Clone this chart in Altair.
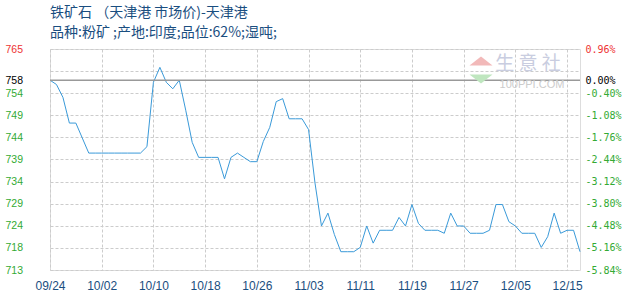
import json
import altair as alt
import pandas as pd

# ---- data ----
prices = [758, 757, 754, 748, 748, 744.5, 741, 741, 741, 741, 741, 741, 741, 741, 741,
          742.5, 757.5, 761, 757.5, 756, 758, 751, 743.5, 740, 740, 740, 740, 735, 740, 741,
          740, 739, 739, 743.7, 747, 753, 753.7, 749, 749, 749, 746.5, 734, 724, 727, 722,
          718, 718, 718, 719, 724, 720, 723, 723, 723, 726, 724, 729, 724.6, 723, 723, 723,
          722.3, 727, 724, 724, 722.3, 722.3, 722.3, 723, 729, 729, 725, 724, 722.3, 722.3,
          722.3, 719, 721.5, 727, 722.3, 723, 723, 718]

x_tick_idx = [0, 8, 16, 24, 32, 40, 48, 56, 64, 72, 80]
x_tick_labels = ["09/24", "10/02", "10/10", "10/18", "10/26", "11/03",
                 "11/11", "11/19", "11/27", "12/05", "12/15"]

base_price = 758
pct_levels = [-5.84, -5.16, -4.48, -3.80, -3.12, -2.44, -1.76, -1.08, -0.40, 0.28, 0.96]
left_labels = ["713", "718", "724", "729", "734", "739", "744", "749", "754", "", "765"]
right_labels = ["-5.84%", "-5.16%", "-4.48%", "-3.80%", "-3.12%", "-2.44%",
                "-1.76%", "-1.08%", "-0.40%", "", "0.96%"]
base_left_label = "758"
base_right_label = "0.00%"

title_text = "铁矿石  （天津港  市场价)-天津港"
subtitle_text = "品种:粉矿 ;产地:印度;品位:62%;湿吨;"

# ---- derived ----
df = pd.DataFrame({"idx": list(range(len(prices))), "price": prices})
grid_vals = [round(base_price * (1 + p / 100), 4) for p in pct_levels]
left_vals = grid_vals + [base_price]
left_text = left_labels + [base_left_label]
right_vals = grid_vals + [base_price]
right_text = right_labels + [base_right_label]
ydom = [grid_vals[0], grid_vals[-1]]
xdom = [0, len(prices) - 1]

GREEN = "#33aa33"
RED = "#ee3333"
BLUE_LINE = "#3a9ad9"
TEXT_BLUE = "#1a4e80"


def color_cond(top):
    return {
        "condition": [
            {"test": f"datum.value > {top - 1}", "value": RED},
            {"test": f"datum.value == {base_price}", "value": "#000000"},
        ],
        "value": GREEN,
    }


x_enc = alt.X(
    "idx:Q",
    scale=alt.Scale(domain=xdom, nice=False, zero=False),
    axis=alt.Axis(
        values=x_tick_idx,
        labelExpr=f"{json.dumps(x_tick_labels)}[indexof({json.dumps(x_tick_idx)}, datum.value)]",
        title=None, ticks=False, domain=False, grid=True,
        gridDash=[3, 2], gridColor="#cccccc",
        labelColor=TEXT_BLUE, labelFont="Liberation Sans", labelFontSize=12,
        labelPadding=10, labelFlush=False, labelOverlap=False,
    ),
)

line = alt.Chart(df).mark_line(color=BLUE_LINE, strokeWidth=1).encode(
    x=x_enc,
    y=alt.Y(
        "price:Q",
        scale=alt.Scale(domain=ydom, nice=False, zero=False),
        axis=alt.Axis(
            values=left_vals,
            labelExpr=f"{json.dumps(left_text)}[indexof({json.dumps(left_vals)}, datum.value)]",
            title=None, ticks=False, domain=False, grid=True,
            gridDash=[3, 2], gridColor="#cccccc",
            labelAlign="left", labelPadding=45, labelOverlap=False,
            labelFont="Liberation Sans", labelFontSize=10.5,
            labelColor=color_cond(grid_vals[-1]),
        ),
    ),
)

rule = alt.Chart(pd.DataFrame({"ref": [base_price]})).mark_rule(
    color="#999999", strokeWidth=1.5
).encode(
    y=alt.Y(
        "ref:Q",
        scale=alt.Scale(domain=ydom, nice=False, zero=False),
        axis=alt.Axis(
            orient="right",
            values=right_vals,
            labelExpr=f"{json.dumps(right_text)}[indexof({json.dumps(right_vals)}, datum.value)]",
            title=None, ticks=False, domain=False, grid=False,
            labelAlign="left", labelPadding=5, labelOverlap=False,
            labelFont="DejaVu Sans Mono", labelFontSize=10,
            labelColor=color_cond(grid_vals[-1]),
        ),
    ),
)

# faint watermark (decoration)
wm1 = alt.Chart(pd.DataFrame({"t": ["生  意  社"]})).mark_text(
    font="Noto Sans CJK SC", fontSize=19, color="#c9cde0", align="center", baseline="middle"
).encode(text="t:N", x=alt.value(478), y=alt.value(15))
wm2 = alt.Chart(pd.DataFrame({"t": ["100PPI.COM"]})).mark_text(
    font="Liberation Sans", fontSize=11, color="#cccccc", align="center", baseline="middle"
).encode(text="t:N", x=alt.value(482), y=alt.value(36))
tri_up = alt.Chart(pd.DataFrame({"t": ["a"]})).mark_point(
    shape="M-1,0.4L0,-0.4L1,0.4Z", filled=True, color="#f2b9b9", opacity=1, size=529
).encode(x=alt.value(431), y=alt.value(12))
tri_dn = alt.Chart(pd.DataFrame({"t": ["a"]})).mark_point(
    shape="M-1,-0.4L0,0.4L1,-0.4Z", filled=True, color="#bfe6bf", opacity=1, size=529
).encode(x=alt.value(431), y=alt.value(30))

chart = (
    alt.layer(line, rule, wm1, wm2, tri_up, tri_dn)
    .resolve_scale(y="independent")
    .properties(
        width=530,
        height=221,
        autosize=alt.AutoSizeParams(type="none"),
        padding={"left": 50, "top": 49, "right": 50, "bottom": 30},
        title=alt.TitleParams(
            text=title_text,
            subtitle=subtitle_text,
            anchor="start",
            frame="group",
            font="Noto Sans CJK SC",
            fontSize=14,
            fontWeight="normal",
            color=TEXT_BLUE,
            subtitleFont="Noto Sans CJK SC",
            subtitleFontSize=14,
            subtitleColor=TEXT_BLUE,
            subtitlePadding=6,
            offset=4,
        ),
    )
    .configure_view(stroke="#999999", strokeWidth=1.5)
    .configure(background="white")
)

chart.save("out.html", embed_options={"renderer": "svg", "actions": False})
